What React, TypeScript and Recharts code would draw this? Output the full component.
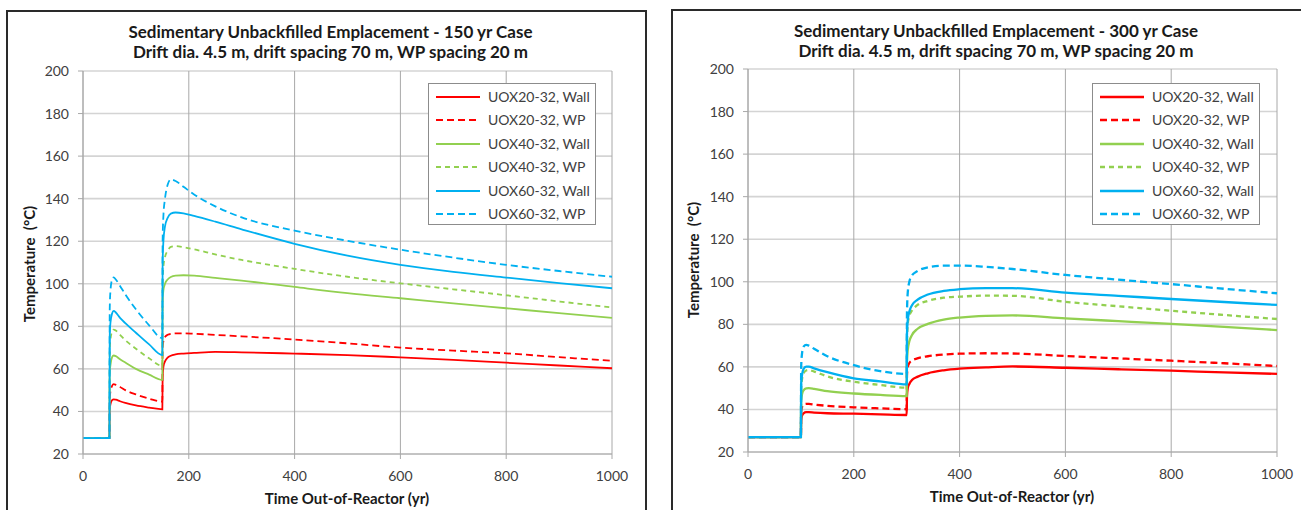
import React from 'react';
import { LineChart, Line, XAxis, YAxis, CartesianGrid, Legend } from 'recharts';

const FONT = 'Lato, "Open Sans", "DejaVu Sans", sans-serif';

const X_TICKS = [0, 200, 400, 600, 800, 1000];
const Y_TICKS = [20, 40, 60, 80, 100, 120, 140, 160, 180, 200];

const SERIES_KEYS = ['wall20', 'wp20', 'wall40', 'wp40', 'wall60', 'wp60'];
const SERIES_NAMES = [
  'UOX20-32, Wall',
  'UOX20-32, WP',
  'UOX40-32, Wall',
  'UOX40-32, WP',
  'UOX60-32, Wall',
  'UOX60-32, WP',
];
const SERIES_COLORS = ['#FF0000', '#FF0000', '#92D050', '#92D050', '#00B0F0', '#00B0F0'];
const SERIES_DASH = [undefined, '7 4', undefined, '5 4', undefined, '7 4'];

// ---- 150 yr case (left) ----
const L_TIME = [0, 50, 50.5, 52, 55, 58, 62, 70, 80, 100, 125, 150, 150.5, 152, 155, 160, 166, 175, 190, 210, 250, 300, 400, 500, 600, 700, 800, 900, 1000];
const L_WALL20 = [27.5, 27.5, 41, 43.5, 45.3, 45.7, 45.5, 44.8, 44, 42.8, 41.8, 41, 56, 61, 63.5, 65.3, 66.2, 66.8, 67.2, 67.5, 68, 67.8, 67.2, 66.5, 65.4, 64.2, 62.9, 61.6, 60.3];
const L_WP20 = [27.5, 27.5, 46, 49.5, 52, 52.8, 52.5, 51.5, 50, 48, 46, 44.6, 70, 73, 75, 76, 76.5, 76.7, 76.7, 76.5, 76, 75.3, 73.8, 72, 70, 68.6, 67.3, 65.5, 63.8];
const L_WALL40 = [27.5, 27.5, 58, 62, 65.5, 66.3, 66, 64.5, 63, 60, 57.3, 54.8, 92, 97, 100, 102, 103.2, 103.8, 104, 103.8, 102.8, 101.5, 98.5, 95.6, 93.2, 90.8, 88.5, 86.2, 84];
const L_WP40 = [27.5, 27.5, 68, 74, 77.5, 78.5, 78, 76, 73.5, 69.5, 65, 61.4, 100, 108, 112.5, 115.5, 117.3, 117.7, 117.2, 116.2, 113.8, 111.2, 107, 103.3, 100.2, 97.4, 94.6, 91.7, 88.9];
const L_WALL60 = [27.5, 27.5, 75, 82, 86, 87.3, 86.5, 84, 81.5, 77, 71.5, 66.5, 110, 120, 127, 131, 133, 133.5, 133.1, 131.9, 129.2, 125.6, 118.8, 113.2, 108.9, 105.6, 102.9, 100.3, 97.9];
const L_WP60 = [27.5, 27.5, 88, 97, 102, 103, 102, 99, 95, 88, 80.5, 74.4, 120, 132, 140, 146.5, 149, 148.3, 145.6, 142, 136.4, 131.2, 125, 120.2, 116, 112.3, 108.9, 106, 103.3];

// ---- 300 yr case (right) ----
const R_TIME = [0, 100, 100.5, 102, 105, 110, 115, 125, 150, 200, 250, 300, 300.5, 302, 305, 310, 320, 340, 370, 400, 450, 500, 600, 700, 800, 900, 1000];
const R_WALL20 = [27, 27, 35, 37, 38.2, 38.7, 38.7, 38.5, 38.2, 38, 37.7, 37.4, 46, 50, 52, 53.8, 55.3, 57, 58.4, 59.2, 59.8, 60.2, 59.6, 58.9, 58.2, 57.4, 56.7];
const R_WP20 = [27, 27, 39, 41, 42.2, 42.6, 42.6, 42.3, 41.7, 41, 40.5, 40.1, 56, 60, 61.8, 63, 64, 65, 65.8, 66.2, 66.4, 66.3, 65.1, 64, 62.9, 61.7, 60.4];
const R_WALL40 = [27, 27, 44, 47, 49, 49.9, 50, 49.7, 48.6, 47.5, 46.8, 46.3, 62, 68, 72, 75, 77.8, 80.2, 82.2, 83.2, 84, 84.2, 82.8, 81.5, 80.2, 78.8, 77.3];
const R_WP40 = [27, 27, 50, 54, 57, 58.3, 58.5, 57.8, 55.5, 53, 51.5, 50.2, 72, 80, 84, 86.5, 89, 91, 92.5, 93, 93.5, 93.4, 90.6, 88.5, 86.4, 84.4, 82.5];
const R_WALL60 = [27, 27, 52, 56, 59, 60.1, 60.1, 59.3, 57.5, 54.6, 53.2, 51.8, 75, 82, 86, 89, 91.5, 94, 95.7, 96.5, 97, 97, 94.9, 93.4, 91.9, 90.5, 89.1];
const R_WP60 = [27, 27, 60, 66, 69.5, 70.3, 70, 68.5, 65, 60.8, 58, 56.7, 85, 95, 100, 103, 105, 106.8, 107.6, 107.6, 107, 106, 103.2, 101, 98.9, 96.7, 94.6];

const TITLE_L1 = 'Sedimentary Unbackfilled Emplacement - 150 yr Case';
const TITLE_R1 = 'Sedimentary Unbackfilled Emplacement - 300 yr Case';
const TITLE_2 = 'Drift dia. 4.5 m, drift spacing 70 m, WP spacing 20 m';
const X_TITLE = 'Time Out-of-Reactor (yr)';
const Y_TITLE = 'Temperature  (°C)';

function buildRows(times: number[], cols: number[][]) {
  return times.map((t, i) => {
    const row: any = { t };
    SERIES_KEYS.forEach((k, j) => {
      row[k] = cols[j][i];
    });
    return row;
  });
}

const LEFT_ROWS = buildRows(L_TIME, [L_WALL20, L_WP20, L_WALL40, L_WP40, L_WALL60, L_WP60]);
const RIGHT_ROWS = buildRows(R_TIME, [R_WALL20, R_WP20, R_WALL40, R_WP40, R_WALL60, R_WP60]);

function LegendBox(props: any) {
  const payload = [...(props.payload || [])].sort(
    (a: any, b: any) => SERIES_KEYS.indexOf(a.dataKey) - SERIES_KEYS.indexOf(b.dataKey)
  );
  const sw = props.sw || 2;
  return (
    <div
      style={{
        width: 168,
        height: 142,
        boxSizing: 'border-box',
        border: '1px solid #8c8c8c',
        background: '#fff',
        paddingTop: 1,
        fontFamily: FONT,
        fontSize: 14,
        color: '#404040',
      }}
    >
      {payload.map((e: any, i: number) => {
        const idx = SERIES_KEYS.indexOf(e.dataKey);
        const dash = idx >= 0 ? SERIES_DASH[idx] : undefined;
        const color = idx >= 0 ? SERIES_COLORS[idx] : e.color;
        return (
          <div key={i} style={{ height: 23.5, display: 'flex', alignItems: 'center' }}>
            <svg width={52} height={10} style={{ marginLeft: 7, flex: 'none' }}>
              <line x1={0} y1={5} x2={44} y2={5} stroke={color} strokeWidth={sw} strokeDasharray={dash} />
            </svg>
            <span style={{ whiteSpace: 'nowrap', lineHeight: '16px' }}>{e.value}</span>
          </div>
        );
      })}
    </div>
  );
}

function Chart(props: any) {
  const { rows, width, margin, legendLeft, sw } = props;
  const tickStyle = { fill: '#404040', fontSize: 14, fontFamily: FONT };
  return (
    <LineChart width={width} height={510} data={rows} margin={margin}>
      <CartesianGrid vertical={false} stroke="#d4d4d4" strokeWidth={1.6} />
      <CartesianGrid horizontal={false} stroke="#a8a8a8" strokeWidth={1} />
      <XAxis
        dataKey="t"
        type="number"
        domain={[0, 1000]}
        ticks={X_TICKS}
        height={30}
        tickSize={5}
        tickMargin={12}
        tick={tickStyle}
        stroke="#a8a8a8"
        interval={0}
      />
      <YAxis
        type="number"
        domain={[20, 200]}
        ticks={Y_TICKS}
        width={60}
        tickSize={5}
        tickMargin={9}
        tick={tickStyle}
        stroke="#a8a8a8"
        interval={0}
      />
      <Legend
        layout="vertical"
        align="center"
        verticalAlign="middle"
        wrapperStyle={{ left: legendLeft, top: 83, width: 168 }}
        content={(p: any) => <LegendBox {...p} sw={sw} />}
      />
      {SERIES_KEYS.map((k, i) => (
        <Line
          key={k}
          dataKey={k}
          name={SERIES_NAMES[i]}
          type="monotone"
          stroke={SERIES_COLORS[i]}
          strokeWidth={sw}
          strokeDasharray={SERIES_DASH[i]}
          dot={false}
          activeDot={false}
          isAnimationActive={false}
        />
      ))}
    </LineChart>
  );
}

const titleStyle: any = {
  position: 'absolute',
  textAlign: 'center',
  fontFamily: FONT,
  fontWeight: 700,
  fontSize: 17,
  lineHeight: '20px',
  color: '#1a1a1a',
  whiteSpace: 'nowrap',
};

const axisTitleStyle: any = {
  position: 'absolute',
  fontFamily: FONT,
  fontWeight: 700,
  fontSize: 15,
  lineHeight: '16px',
  color: '#1a1a1a',
  whiteSpace: 'pre',
  textAlign: 'center',
};

export default function App() {
  return (
    <div
      style={{
        position: 'absolute',
        left: 0,
        top: 0,
        width: 1301,
        height: 510,
        overflow: 'hidden',
        background: '#fff',
      }}
    >
      <div style={{ position: 'absolute', left: 6, top: 10, width: 637, height: 600, border: '2px solid #2a2a2a' }} />
      <div style={{ position: 'absolute', left: 671, top: 9, width: 700, height: 600, border: '2px solid #2a2a2a' }} />

      <div style={{ position: 'absolute', left: 0, top: 0, width: 650, height: 510 }}>
        <Chart
          rows={LEFT_ROWS}
          width={650}
          margin={{ top: 71, right: 38, bottom: 26, left: 23 }}
          legendLeft={428}
          sw={1.8}
        />
      </div>
      <div style={{ position: 'absolute', left: 660, top: 0, width: 641, height: 510 }}>
        <Chart
          rows={RIGHT_ROWS}
          width={641}
          margin={{ top: 69, right: 24, bottom: 28, left: 28 }}
          legendLeft={432}
          sw={2.3}
        />
      </div>

      <div style={{ ...titleStyle, left: 7, width: 647, top: 22 }}>
        <div>{TITLE_L1}</div>
        <div>{TITLE_2}</div>
      </div>
      <div style={{ ...titleStyle, left: 672, width: 648, top: 21 }}>
        <div>{TITLE_R1}</div>
        <div>{TITLE_2}</div>
      </div>

      <div style={{ ...axisTitleStyle, left: 247, width: 200, top: 490 }}>{X_TITLE}</div>
      <div style={{ ...axisTitleStyle, left: 912, width: 200, top: 488 }}>{X_TITLE}</div>

      <div style={{ ...axisTitleStyle, left: 29 - 100, width: 200, top: 264 - 8, transform: 'rotate(-90deg)' }}>{Y_TITLE}</div>
      <div style={{ ...axisTitleStyle, left: 693 - 100, width: 200, top: 260 - 8, transform: 'rotate(-90deg)' }}>{Y_TITLE}</div>
    </div>
  );
}
